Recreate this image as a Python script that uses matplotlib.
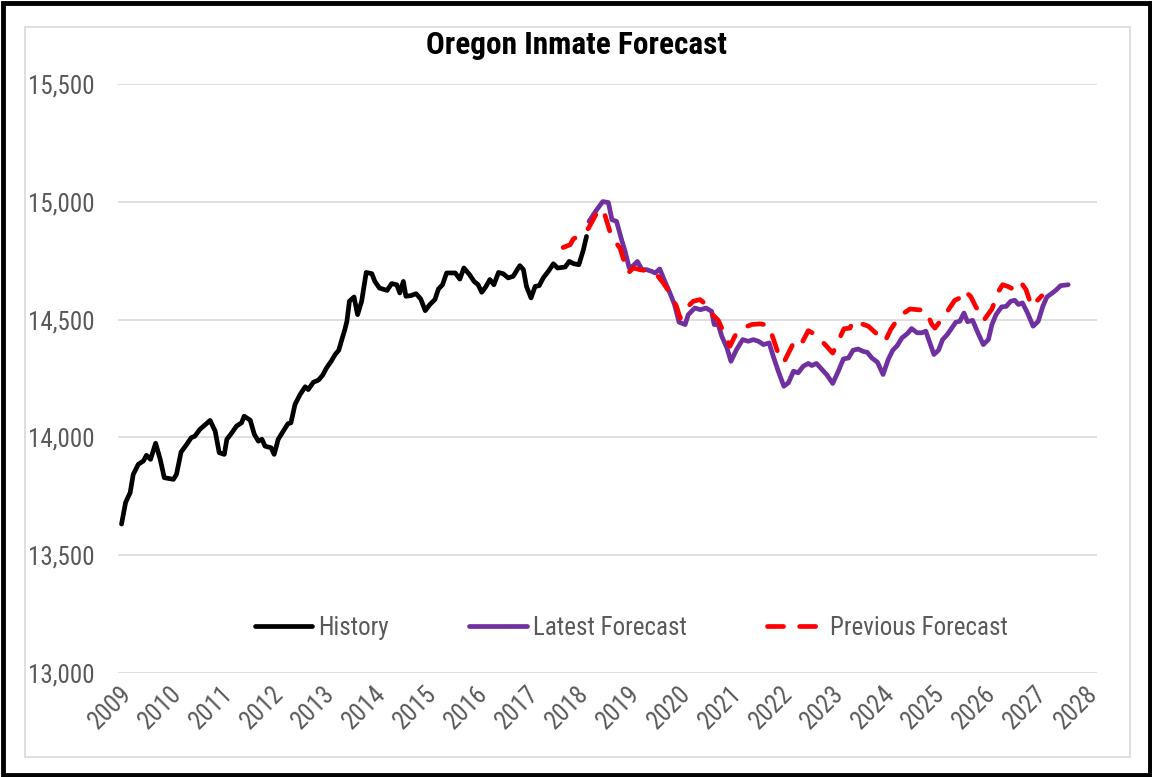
import matplotlib
matplotlib.use("Agg")
import matplotlib.pyplot as plt
from matplotlib import font_manager
from matplotlib.patches import Rectangle
from matplotlib.ticker import FuncFormatter

# ---------------- data ----------------
hist_year = [2009.05, 2009.13, 2009.22, 2009.28, 2009.38, 2009.48, 2009.54, 2009.62, 2009.72, 2009.81,
             2009.89, 2010.07, 2010.13, 2010.22, 2010.33, 2010.42, 2010.49, 2010.59, 2010.79, 2010.89,
             2010.97, 2011.07, 2011.12, 2011.22, 2011.31, 2011.41, 2011.46, 2011.58, 2011.66, 2011.74,
             2011.81, 2011.87, 2011.99, 2012.05, 2012.13, 2012.23, 2012.32, 2012.38, 2012.46, 2012.56,
             2012.66, 2012.72, 2012.82, 2012.92, 2013.00, 2013.08, 2013.17, 2013.25, 2013.32, 2013.38,
             2013.44, 2013.48, 2013.53, 2013.62, 2013.69, 2013.77, 2013.86, 2013.97, 2014.03, 2014.12,
             2014.27, 2014.36, 2014.46, 2014.52, 2014.59, 2014.64, 2014.74, 2014.84, 2014.93, 2015.02,
             2015.11, 2015.21, 2015.28, 2015.36, 2015.44, 2015.61, 2015.70, 2015.78, 2015.89, 2015.98,
             2016.06, 2016.13, 2016.21, 2016.29, 2016.37, 2016.46, 2016.55, 2016.65, 2016.75, 2016.82,
             2016.88, 2016.95, 2017.01, 2017.10, 2017.18, 2017.26, 2017.34, 2017.44, 2017.54, 2017.62,
             2017.77, 2017.85, 2017.94, 2018.04, 2018.13, 2018.19]
hist_val = [13632, 13724, 13766, 13843, 13886, 13900, 13924, 13907, 13975, 13907,
            13829, 13822, 13843, 13938, 13970, 13999, 14005, 14034, 14072, 14027,
            13935, 13928, 13992, 14020, 14048, 14062, 14090, 14073, 14013, 13984,
            13992, 13963, 13956, 13928, 13992, 14027, 14058, 14062, 14140, 14182,
            14215, 14203, 14234, 14243, 14263, 14295, 14323, 14352, 14370, 14415,
            14458, 14493, 14578, 14596, 14521, 14578, 14700, 14695, 14662, 14634,
            14624, 14653, 14648, 14613, 14662, 14599, 14602, 14610, 14588, 14538,
            14564, 14585, 14630, 14648, 14698, 14698, 14672, 14719, 14691, 14662,
            14648, 14616, 14639, 14670, 14648, 14700, 14695, 14677, 14684, 14709,
            14729, 14712, 14641, 14592, 14641, 14644, 14677, 14705, 14737, 14719,
            14723, 14747, 14737, 14733, 14797, 14853]

latest_year = [2018.24, 2018.39, 2018.51, 2018.62, 2018.69, 2018.78, 2018.88, 2018.95, 2019.03, 2019.11,
               2019.19, 2019.28, 2019.37, 2019.47, 2019.54, 2019.63, 2019.73, 2019.83, 2019.92, 2020.01,
               2020.13, 2020.19, 2020.32, 2020.43, 2020.54, 2020.65, 2020.70, 2020.78, 2020.85, 2020.95,
               2021.03, 2021.14, 2021.26, 2021.37, 2021.47, 2021.57, 2021.67, 2021.78, 2021.86, 2021.96,
               2022.07, 2022.16, 2022.26, 2022.35, 2022.45, 2022.55, 2022.62, 2022.71, 2022.85, 2022.91,
               2023.03, 2023.14, 2023.24, 2023.34, 2023.43, 2023.53, 2023.63, 2023.71, 2023.80, 2023.91,
               2024.02, 2024.12, 2024.21, 2024.30, 2024.39, 2024.50, 2024.58, 2024.69, 2024.78, 2024.86,
               2024.94, 2025.02, 2025.11, 2025.19, 2025.28, 2025.37, 2025.45, 2025.53, 2025.61, 2025.68,
               2025.78, 2025.87, 2025.99, 2026.09, 2026.16, 2026.24, 2026.35, 2026.44, 2026.53, 2026.61,
               2026.68, 2026.76, 2026.86, 2026.97, 2027.07, 2027.16, 2027.24, 2027.33, 2027.43, 2027.51,
               2027.66]
latest_val = [14917, 14966, 15001, 14997, 14924, 14917, 14839, 14789, 14719, 14729,
              14747, 14712, 14712, 14705, 14698, 14715, 14662, 14613, 14564, 14489,
              14479, 14521, 14549, 14542, 14549, 14535, 14479, 14479, 14429, 14380,
              14323, 14373, 14415, 14408, 14415, 14408, 14394, 14401, 14345, 14281,
              14217, 14232, 14281, 14274, 14302, 14314, 14305, 14314, 14281, 14267,
              14229, 14281, 14333, 14337, 14370, 14375, 14365, 14361, 14337, 14319,
              14267, 14330, 14370, 14390, 14422, 14441, 14462, 14444, 14444, 14451,
              14401, 14352, 14370, 14415, 14436, 14464, 14489, 14493, 14528, 14491,
              14497, 14451, 14394, 14415, 14479, 14521, 14554, 14556, 14578, 14582,
              14564, 14571, 14528, 14472, 14493, 14556, 14596, 14610, 14627, 14644,
              14648]

prev_year = [2017.73, 2017.87, 2017.93, 2018.13, 2018.23, 2018.39, 2018.46, 2018.55, 2018.65, 2018.75,
             2018.85, 2018.91, 2019.01, 2019.11, 2019.24, 2019.44, 2019.57, 2019.70, 2019.83, 2019.96,
             2020.03, 2020.15, 2020.29, 2020.42, 2020.54, 2020.65, 2020.78, 2020.91, 2021.01, 2021.13,
             2021.27, 2021.44, 2021.60, 2021.77, 2021.86, 2021.96, 2022.07, 2022.26, 2022.39, 2022.55,
             2022.71, 2022.91, 2023.03, 2023.11, 2023.25, 2023.37, 2023.43, 2023.73, 2023.96, 2024.06,
             2024.17, 2024.35, 2024.55, 2024.86, 2024.98, 2025.04, 2025.24, 2025.43, 2025.53, 2025.61,
             2025.74, 2025.84, 2026.00, 2026.16, 2026.29, 2026.37, 2026.47, 2026.60, 2026.73, 2026.83,
             2026.94, 2027.14]
prev_val = [14806, 14818, 14842, 14867, 14888, 14952, 14971, 14945, 14874, 14832,
            14803, 14761, 14698, 14719, 14712, 14705, 14691, 14655, 14613, 14556,
            14506, 14549, 14578, 14585, 14564, 14525, 14497, 14435, 14387, 14440,
            14465, 14479, 14482, 14476, 14420, 14355, 14319, 14401, 14387, 14453,
            14434, 14387, 14358, 14394, 14461, 14464, 14495, 14472, 14427, 14408,
            14458, 14516, 14545, 14539, 14479, 14464, 14521, 14582, 14592, 14624,
            14599, 14556, 14497, 14545, 14620, 14648, 14641, 14627, 14658, 14627,
            14556, 14601]

tick_years = list(range(2009, 2029))
tick_labels = [str(y) for y in tick_years]
y_ticks = [13000, 13500, 14000, 14500, 15000, 15500]
series_names = ["History", "Latest Forecast", "Previous Forecast"]
title = "Oregon Inmate Forecast"

# ---------------- fonts: look for a narrow/condensed sans ----------------
entries = font_manager.fontManager.ttflist
names = {f.name for f in entries}
FAM = None
STRETCH = "normal"
for cand in ["Liberation Sans Narrow", "Arial Narrow", "Roboto Condensed",
             "Open Sans Condensed", "Noto Sans Condensed", "DejaVu Sans Condensed"]:
    if cand in names:
        FAM = cand
        break
if FAM is None:
    for f in entries:
        if str(f.stretch) != "normal" and f.style == "normal" \
                and "Mono" not in f.name and "Serif" not in f.name:
            FAM = f.name
            STRETCH = f.stretch
            break
if FAM is None:
    for f in entries:
        n = f.name.lower()
        if ("narrow" in n or "condensed" in n) and "mono" not in n and "serif" not in n:
            FAM = f.name
            break
if FAM is None:
    FAM = "Liberation Sans"
    scale = 0.84
else:
    scale = 1.0
plt.rcParams["font.family"] = [FAM, "DejaVu Sans"]
FS = 18.0 * scale
TITLE_FS = 22.5 * scale
GRAY = "#595959"

# ---------------- figure ----------------
W, H = 1152, 777
fig = plt.figure(figsize=(W / 100, H / 100), dpi=100)
fig.patch.set_facecolor("white")

x0, x1 = 118, 1097
ytop, ybot = 84, 673
ax = fig.add_axes([x0 / W, 1 - ybot / H, (x1 - x0) / W, (ybot - ytop) / H])

px_per_year = 50.87
ax.set_xlim(2009 + (x0 - 119) / px_per_year, 2009 + (x1 - 119) / px_per_year)
ax.set_ylim(13000, 15500)

LW = 3.4
ax.plot(hist_year, hist_val, color="black", lw=LW, solid_joinstyle="round",
        solid_capstyle="round", label=series_names[0], zorder=3)
ax.plot(latest_year, latest_val, color="#7030A0", lw=LW, solid_joinstyle="round",
        solid_capstyle="round", label=series_names[1], zorder=4)
ax.plot(prev_year, prev_val, color="#FF0000", lw=LW, dashes=(3.4, 3.4),
        dash_capstyle="round", dash_joinstyle="round", label=series_names[2], zorder=5)

ax.set_yticks(y_ticks)
ax.yaxis.set_major_formatter(FuncFormatter(lambda v, p: f"{int(v):,}"))
ax.grid(axis="y", color="#D9D9D9", lw=1.2)
ax.set_axisbelow(True)
for s in ax.spines.values():
    s.set_visible(False)
ax.tick_params(axis="y", length=0, pad=16.5, labelsize=FS, labelcolor=GRAY)
ax.tick_params(axis="x", length=0, pad=6, labelsize=FS, labelcolor=GRAY)
ax.set_xticks(tick_years)
ax.set_xticklabels(tick_labels, rotation=45, ha="right", va="top", rotation_mode="anchor")
for t in ax.get_xticklabels() + ax.get_yticklabels():
    t.set_fontstretch(STRETCH)

tt = fig.text(576 / W, 1 - 45.5 / H, title, ha="center", va="center", fontsize=TITLE_FS,
              fontweight="bold", color="black")
tt.set_fontstretch(STRETCH)

handles, labels = ax.get_legend_handles_labels()
leg = fig.legend(handles, labels, loc="center", bbox_to_anchor=(631.5 / W, 1 - 628 / H), ncol=3,
                 frameon=False, fontsize=FS, labelcolor=GRAY, handlelength=2.3,
                 handletextpad=0.25, columnspacing=3.2)
for t in leg.get_texts():
    t.set_fontstretch(STRETCH)

# borders
fig.patches.append(Rectangle((25 / W, 1 - 757 / H), (1130 - 25) / W, (757 - 27) / H,
                             transform=fig.transFigure, fill=False, ec="#D9D9D9", lw=1.2))
fig.patches.append(Rectangle((2.5 / W, 2.5 / H), (W - 5) / W, (H - 5) / H,
                             transform=fig.transFigure, fill=False, ec="black", lw=3.5))

fig.savefig("out.png", dpi=100, facecolor="white")
